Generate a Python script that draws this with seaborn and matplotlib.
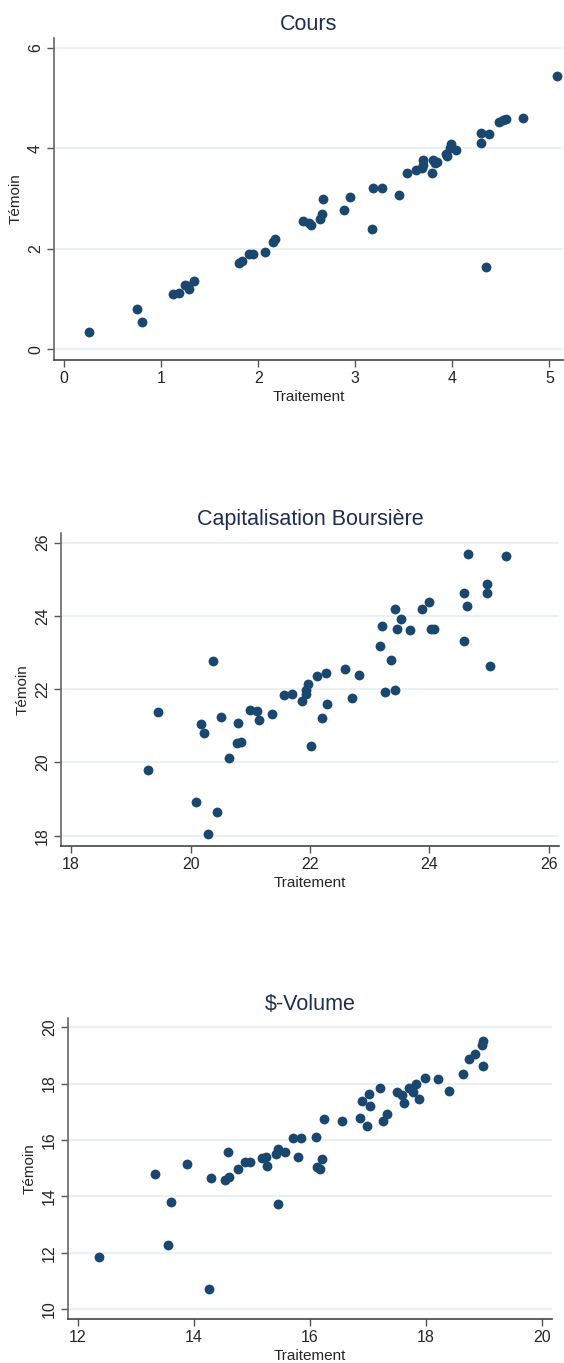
import matplotlib
matplotlib.use("Agg")
import matplotlib.pyplot as plt
import pandas as pd
import seaborn as sns

# Cours
cours_x = [0.25, 0.75, 0.80, 1.12, 1.18, 1.24, 1.27, 1.29, 1.34, 1.80, 1.83, 1.90, 1.95,
           2.07, 2.15, 2.17, 2.46, 2.52, 2.54, 2.64, 2.66, 2.67, 2.88, 2.94, 3.17, 3.18,
           3.27, 3.45, 3.53, 3.62, 3.69, 3.70, 3.70, 3.79, 3.80, 3.82, 3.84, 3.93, 3.94,
           3.98, 3.99, 4.04, 4.29, 4.30, 4.38, 4.35, 4.48, 4.52, 4.55, 4.73, 5.08]
cours_y = [0.34, 0.80, 0.55, 1.11, 1.13, 1.28, 1.26, 1.20, 1.37, 1.72, 1.75, 1.90, 1.90,
           1.94, 2.14, 2.20, 2.55, 2.52, 2.47, 2.59, 2.69, 2.99, 2.78, 3.03, 2.40, 3.21,
           3.21, 3.06, 3.50, 3.57, 3.60, 3.67, 3.77, 3.51, 3.77, 3.71, 3.73, 3.89, 3.84,
           4.00, 4.09, 3.97, 4.11, 4.31, 4.29, 1.63, 4.52, 4.56, 4.58, 4.60, 5.43]

# Capitalisation Boursiere
cap_x = [19.28, 19.46, 20.09, 20.17, 20.23, 20.29, 20.37, 20.45, 20.51, 20.65, 20.77,
         20.80, 20.84, 20.99, 21.12, 21.15, 21.36, 21.57, 21.70, 21.86, 21.94, 21.94,
         21.97, 22.02, 22.12, 22.20, 22.26, 22.28, 22.59, 22.70, 22.82, 23.18, 23.21,
         23.26, 23.35, 23.42, 23.43, 23.46, 23.52, 23.67, 23.87, 23.99, 24.02, 24.08,
         24.58, 24.58, 24.63, 24.65, 24.96, 24.97, 25.01, 25.28]
cap_y = [19.80, 21.38, 18.93, 21.05, 20.79, 18.06, 22.78, 18.65, 21.23, 20.12, 20.53,
         21.08, 20.55, 21.42, 21.39, 21.16, 21.31, 21.84, 21.87, 21.68, 21.88, 21.97,
         22.15, 20.45, 22.35, 21.20, 22.43, 21.59, 22.56, 21.75, 22.38, 23.19, 23.72,
         21.92, 22.79, 21.98, 24.20, 23.64, 23.91, 23.62, 24.19, 24.38, 23.63, 23.65,
         24.63, 23.32, 24.27, 25.68, 24.62, 24.86, 22.62, 25.62]

# $-Volume
vol_x = [12.36, 13.33, 13.56, 13.61, 13.88, 14.27, 14.30, 14.54, 14.59, 14.60, 14.77,
         14.89, 14.97, 15.17, 15.24, 15.27, 15.41, 15.46, 15.46, 15.57, 15.71, 15.79,
         15.85, 16.10, 16.12, 16.18, 16.21, 16.25, 16.56, 16.87, 16.91, 16.99, 17.03,
         17.04, 17.22, 17.26, 17.34, 17.50, 17.60, 17.62, 17.72, 17.78, 17.83, 17.89,
         17.99, 18.22, 18.40, 18.64, 18.75, 18.85, 18.97, 18.99, 18.99]
vol_y = [11.87, 14.79, 12.29, 13.80, 15.14, 10.73, 14.66, 14.60, 15.58, 14.68, 14.96,
         15.21, 15.23, 15.35, 15.38, 15.09, 15.52, 15.69, 13.75, 15.59, 16.06, 15.41,
         16.08, 16.12, 15.03, 14.98, 15.32, 16.73, 16.68, 16.79, 17.38, 16.51, 17.62,
         17.20, 17.84, 16.67, 16.92, 17.69, 17.59, 17.31, 17.83, 17.69, 17.97, 17.45,
         18.21, 18.15, 17.73, 18.32, 18.86, 19.04, 19.36, 19.49, 18.62]

sns.set_style("white")
plt.rcParams["font.family"] = ["Liberation Sans", "DejaVu Sans"]

W, H = 564, 1363
fig = plt.figure(figsize=(W / 100, H / 100), dpi=100)

marker_col = "#1a476f"
title_col = "#1f2d4f"
grid_col = "#e9f1f2"

panels = [
    # title, x, y, axes box in px (left, top, right, bottom), xlim, ylim, xticks, yticks
    ("Cours", cours_x, cours_y, (54, 38, 563, 360), (-0.106, 5.14), (-0.21, 6.19),
     [0, 1, 2, 3, 4, 5], [0, 2, 4, 6]),
    ("Capitalisation Boursière", cap_x, cap_y, (61, 533, 559, 846), (17.83, 26.17),
     (17.72, 26.26), [18, 20, 22, 24, 26], [18, 20, 22, 24, 26]),
    ("$-Volume", vol_x, vol_y, (68, 1018, 552, 1319), (11.83, 20.18), (9.66, 20.32),
     [12, 14, 16, 18, 20], [10, 12, 14, 16, 18, 20]),
]

for title, xs, ys, box, xlim, ylim, xt, yt in panels:
    l, t, r, b = box
    ax = fig.add_axes([l / W, 1 - b / H, (r - l) / W, (b - t) / H])
    df = pd.DataFrame({"Traitement": xs, "Témoin": ys})
    ax.set_axisbelow(True)
    for v in yt:
        ax.axhline(v, color=grid_col, lw=1.5, zorder=0)
    sns.scatterplot(data=df, x="Traitement", y="Témoin", ax=ax, color=marker_col,
                    s=50, linewidth=0, zorder=3)
    ax.set_xlim(*xlim)
    ax.set_ylim(*ylim)
    ax.set_xticks(xt)
    ax.set_yticks(yt)
    ax.set_title(title, fontsize=15.5, color=title_col, pad=6)
    ax.set_xlabel("Traitement", fontsize=11, labelpad=3)
    ax.set_ylabel("Témoin", fontsize=11, labelpad=4)
    ax.tick_params(axis="both", direction="out", length=5, width=1, color="#555555",
                   labelsize=11.5, pad=3, left=True, bottom=True)
    ax.tick_params(axis="y", labelrotation=90)
    for lbl in ax.get_yticklabels():
        lbl.set_va("center")
    for side in ["top", "right"]:
        ax.spines[side].set_visible(False)
    ax.spines["left"].set_color("#666666")
    ax.spines["bottom"].set_color("#444444")
    ax.spines["left"].set_linewidth(1.2)
    ax.spines["bottom"].set_linewidth(1.2)

fig.savefig("out.png", dpi=100)
